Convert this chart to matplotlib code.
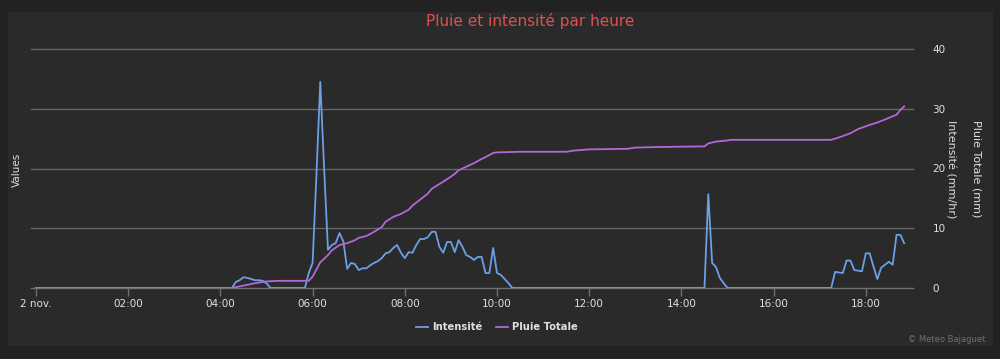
import matplotlib
matplotlib.use("Agg")
import matplotlib.pyplot as plt
from matplotlib.patches import Rectangle

# intensity (mm/hr), times as HH:MM on 2 nov.
int_times = ["00:00", "04:15", "04:20", "04:25", "04:30", "04:35", "04:40", "04:45",
             "04:50", "04:55", "05:00", "05:05", "05:50", "05:55", "06:00", "06:05",
             "06:10", "06:15", "06:20", "06:25", "06:30", "06:35", "06:40", "06:45",
             "06:50", "06:55", "07:00", "07:05", "07:10", "07:15", "07:20", "07:25",
             "07:30", "07:35", "07:40", "07:45", "07:50", "07:55", "08:00", "08:05",
             "08:10", "08:15", "08:20", "08:25", "08:30", "08:35", "08:40", "08:45",
             "08:50", "08:55", "09:00", "09:05", "09:10", "09:15", "09:20", "09:25",
             "09:30", "09:35", "09:40", "09:45", "09:50", "09:55", "10:00", "10:05",
             "10:10", "10:15", "10:20", "14:30", "14:35", "14:40", "14:45", "14:50",
             "14:55", "15:00", "17:15", "17:20", "17:30", "17:35", "17:40", "17:45",
             "17:55", "18:00", "18:05", "18:10", "18:15", "18:20", "18:30", "18:35",
             "18:40", "18:45", "18:50"]
int_values = [0, 0, 1.0, 1.3, 1.8, 1.7, 1.5, 1.3,
              1.3, 1.2, 0.8, 0, 0, 2.5, 4.2, 19.0,
              34.5, 20.0, 6.4, 7.2, 7.5, 9.2, 7.8, 3.2,
              4.2, 4.0, 3.0, 3.3, 3.3, 3.8, 4.2, 4.5,
              5.0, 5.8, 6.0, 6.7, 7.2, 5.9, 5.0, 6.0,
              5.9, 7.2, 8.2, 8.2, 8.5, 9.4, 9.4, 6.9,
              5.9, 7.7, 7.7, 6.0, 8.0, 6.9, 5.5, 5.2,
              4.7, 5.2, 5.2, 2.5, 2.5, 6.7, 2.5, 2.2,
              1.5, 0.8, 0, 0, 15.7, 4.2, 3.5, 1.7,
              0.8, 0, 0, 2.7, 2.5, 4.6, 4.6, 3.0,
              2.8, 5.8, 5.8, 3.6, 1.5, 3.4, 4.4, 3.9,
              8.9, 8.9, 7.5]

# total rain (mm)
tot_times = ["00:00", "04:15", "04:30", "04:45", "05:00", "05:15", "05:55", "06:00",
             "06:10", "06:20", "06:25", "06:35", "06:45", "06:55", "07:00", "07:10",
             "07:20", "07:30", "07:35", "07:45", "07:55", "08:05", "08:10", "08:20",
             "08:30", "08:35", "08:45", "08:55", "09:05", "09:10", "09:20", "09:30",
             "09:40", "09:45", "09:55", "10:00", "10:30", "11:30", "11:40", "12:00",
             "12:50", "13:00", "13:30", "14:30", "14:35", "14:45", "15:00", "15:05",
             "17:15", "17:25", "17:40", "17:50", "18:05", "18:15", "18:25", "18:40",
             "18:45", "18:50"]
tot_values = [0, 0, 0.4, 0.8, 1.1, 1.2, 1.2, 1.9,
              4.3, 5.5, 6.3, 7.2, 7.5, 8.0, 8.4, 8.7,
              9.4, 10.2, 11.1, 11.9, 12.4, 13.1, 13.8, 14.8,
              15.8, 16.6, 17.4, 18.2, 19.1, 19.7, 20.3, 20.9,
              21.6, 21.9, 22.6, 22.7, 22.8, 22.8, 23.0, 23.2,
              23.3, 23.5, 23.6, 23.7, 24.2, 24.5, 24.7, 24.8,
              24.8, 25.2, 25.9, 26.6, 27.3, 27.7, 28.2, 29.0,
              29.8, 30.4]

tick_hours = [0, 2, 4, 6, 8, 10, 12, 14, 16, 18]
tick_labels = ["2 nov.", "02:00", "04:00", "06:00", "08:00", "10:00",
               "12:00", "14:00", "16:00", "18:00"]


def to_hours(t):
    h, m = t.split(":")
    return int(h) + int(m) / 60.0


W, H = 1000, 359
fig = plt.figure(figsize=(W / 100, H / 100), dpi=100, facecolor="#222222")
# inner panel
fig.patches.append(Rectangle((8 / W, 1 - 346 / H), 985 / W, 334 / H,
                             transform=fig.transFigure, facecolor="#2a2a2a",
                             edgecolor="none", zorder=-10))

ax = fig.add_axes([31 / W, 1 - 288 / H, 882 / W, 239 / H])
ax.set_facecolor("none")
x0 = -5 / 46.1
ax.set_xlim(x0, x0 + 882 / 46.1)
ax.set_ylim(0, 40)

for v in [10, 20, 30, 40]:
    ax.axhline(v, color="#666666", lw=1.0, clip_on=False, zorder=1)

ax.plot([to_hours(t) for t in int_times], int_values, color="#6c9fe6", lw=1.3,
        label="Intensité", zorder=3)
ax.plot([to_hours(t) for t in tot_times], tot_values, color="#b467d6", lw=1.3,
        label="Pluie Totale", zorder=3)

for s in ["top", "left", "right"]:
    ax.spines[s].set_visible(False)
ax.spines["bottom"].set_color("#707070")
ax.spines["bottom"].set_linewidth(1.0)

ax.set_xticks(tick_hours)
ax.set_xticklabels(tick_labels)
ax.tick_params(axis="x", colors="#707070", labelcolor="#e0e0e0", length=6,
               width=1, labelsize=7.5, pad=2)

ax.yaxis.tick_right()
ax.set_yticks([0, 10, 20, 30, 40])
ax.tick_params(axis="y", length=0, labelcolor="#e0e0e0", labelsize=7.5, pad=14)

fig.text(17 / W, 1 - 170 / H, "Values", rotation=90, color="#e0e0e0",
         fontsize=7.5, ha="center", va="center")
fig.text(951 / W, 1 - 169 / H, "Intensité (mm/hr)", rotation=-90, color="#e0e0e0",
         fontsize=8, ha="center", va="center")
fig.text(977 / W, 1 - 169 / H, "Pluie Totale (mm)", rotation=-90, color="#e0e0e0",
         fontsize=8, ha="center", va="center")

fig.text(0.53, 1 - 21 / H, "Pluie et intensité par heure", color="#e05050",
         fontsize=11, ha="center", va="center")

leg = fig.legend(loc="center", bbox_to_anchor=(0.497, 1 - 327 / H), ncol=2,
                 frameon=False, handlelength=1.2, handletextpad=0.4,
                 columnspacing=1.4, prop={"weight": "bold", "size": 7.2})
for txt in leg.get_texts():
    txt.set_color("#e0e0e0")

fig.text(985 / W, 1 - 340 / H, "© Meteo Bajaguet", color="#707070",
         fontsize=6, ha="right", va="center")

fig.savefig("out.png", dpi=100, facecolor=fig.get_facecolor())
